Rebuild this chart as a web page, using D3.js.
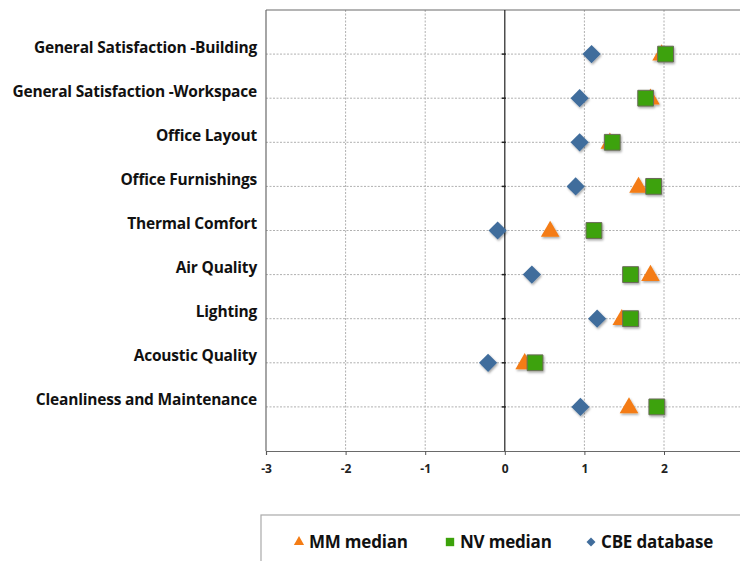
<!DOCTYPE html>
<html>
  <head>
    <meta charset="utf-8">
    <script src="https://d3js.org/d3.v7.min.js"></script>
    <style>
      body { margin: 0; background: #fff; }
      text { font-family: "Open Sans", Lato, sans-serif; }
    </style>
  </head>
  <body>
    <div id="chart"></div>
    <script>
      const categories = [
        "General Satisfaction -Building",
        "General Satisfaction -Workspace",
        "Office Layout",
        "Office Furnishings",
        "Thermal Comfort",
        "Air Quality",
        "Lighting",
        "Acoustic Quality",
        "Cleanliness and Maintenance"
      ]
      const mmMedian = [1.97, 1.83, 1.32, 1.68, 0.57, 1.83, 1.47, 0.25, 1.56]
      const nvMedian = [2.02, 1.77, 1.35, 1.87, 1.12, 1.58, 1.58, 0.38, 1.91]
      const cbeData = [1.09, 0.94, 0.94, 0.89, -0.09, 0.34, 1.16, -0.21, 0.95]
      const xTicks = [-3, -2, -1, 0, 1, 2, 3]
      const seriesNames = ["MM median", "NV median", "CBE database"]

      let data = {
        width: 740,
        height: 561,
        margin: { left: 266, top: 10 },
        plotRight: 743.6,
        plotBottom: 451
      }

      let svg = d3.select("#chart")
        .append("svg")
        .attr("width", data.width)
        .attr("height", data.height)

      let defs = svg.append("defs")
      defs.append("filter")
        .attr("id", "shadow")
        .attr("x", "-50%").attr("y", "-50%")
        .attr("width", "200%").attr("height", "200%")
        .append("feDropShadow")
        .attr("dx", 1).attr("dy", 1.5)
        .attr("stdDeviation", 1)
        .attr("flood-color", "#000")
        .attr("flood-opacity", 0.35)

      let x = d3.scaleLinear()
        .domain([-3, 3])
        .range([data.margin.left, data.plotRight])

      let y = d3.scaleLinear()
        .domain([0, 10])
        .range([data.margin.top, data.plotBottom])

      // grid
      let grid = svg.append("g")
      grid.selectAll(".vgrid")
        .data(xTicks.filter(d => d !== 0 && d !== -3))
        .enter()
        .append("line")
        .attr("x1", d => x(d)).attr("x2", d => x(d))
        .attr("y1", data.margin.top).attr("y2", data.plotBottom)
        .attr("stroke", "#b0b0b0")
        .attr("stroke-width", 1)
        .attr("stroke-dasharray", "2,1.5")

      grid.selectAll(".hgrid")
        .data(categories)
        .enter()
        .append("line")
        .attr("x1", data.margin.left).attr("x2", data.width)
        .attr("y1", (d, i) => y(i + 1)).attr("y2", (d, i) => y(i + 1))
        .attr("stroke", "#b0b0b0")
        .attr("stroke-width", 1)
        .attr("stroke-dasharray", "2,1.5")

      // frame
      svg.append("line")
        .attr("x1", data.margin.left).attr("x2", data.width)
        .attr("y1", data.margin.top).attr("y2", data.margin.top)
        .attr("stroke", "#6a6a6a").attr("stroke-width", 1.2)
      svg.append("line")
        .attr("x1", data.margin.left).attr("x2", data.margin.left)
        .attr("y1", data.margin.top).attr("y2", data.plotBottom)
        .attr("stroke", "#6a6a6a").attr("stroke-width", 1.2)

      // zero axis with category ticks
      svg.append("line")
        .attr("x1", x(0)).attr("x2", x(0))
        .attr("y1", data.margin.top).attr("y2", data.plotBottom)
        .attr("stroke", "#222").attr("stroke-width", 1.2)
      svg.append("g").selectAll("line")
        .data(categories)
        .enter()
        .append("line")
        .attr("x1", x(0) - 3).attr("x2", x(0) + 1)
        .attr("y1", (d, i) => y(i + 1)).attr("y2", (d, i) => y(i + 1))
        .attr("stroke", "#222").attr("stroke-width", 1.5)

      // x axis
      let xAxis = svg.append("g")
        .attr("transform", `translate(0,${data.plotBottom})`)
        .call(d3.axisBottom(x).tickValues(xTicks).tickSize(4).tickFormat(d3.format("d")))
      xAxis.select(".domain").attr("stroke", "#6a6a6a").attr("stroke-width", 1.2)
      xAxis.selectAll(".tick line").attr("stroke", "#555")
      xAxis.selectAll(".tick text")
        .attr("dy", "1.25em")
        .attr("font-size", 12)
        .attr("font-weight", "bold")
        .attr("fill", "#222")
        .text(d => d3.format("d")(d).replace("−", "-"))

      // category labels
      svg.append("g").selectAll("text")
        .data(categories)
        .enter()
        .append("text")
        .attr("x", 257)
        .attr("y", (d, i) => y(i + 1) - 1.5)
        .attr("text-anchor", "end")
        .attr("font-size", 15.5)
        .attr("font-weight", "bold")
        .attr("fill", "#111")
        .attr("letter-spacing", -0.2)
        .text(d => d)

      const colors = { mm: "#f47c14", nv: "#3ca20a", cbe: "#416d9c" }
      const tri = d3.symbol().type(d3.symbolTriangle).size(150)
      const sq = d3.symbol().type(d3.symbolSquare).size(250)
      const dia = d3.symbol().type(d3.symbolSquare).size(165)

      let marks = svg.append("g").attr("filter", "url(#shadow)")

      marks.selectAll(".cbe")
        .data(cbeData)
        .enter()
        .append("path")
        .attr("d", dia)
        .attr("transform", (d, i) => `translate(${x(d)},${y(i + 1)}) rotate(45)`)
        .attr("fill", colors.cbe)

      marks.selectAll(".mm")
        .data(mmMedian)
        .enter()
        .append("path")
        .attr("d", tri)
        .attr("transform", (d, i) => `translate(${x(d)},${y(i + 1) + 1})`)
        .attr("fill", colors.mm)

      marks.selectAll(".nv")
        .data(nvMedian)
        .enter()
        .append("path")
        .attr("d", sq)
        .attr("transform", (d, i) => `translate(${x(d)},${y(i + 1)})`)
        .attr("fill", colors.nv)
        .attr("stroke", "#6b6b5a")
        .attr("stroke-width", 1)

      // legend
      svg.append("rect")
        .attr("x", 261).attr("y", 515)
        .attr("width", 500).attr("height", 60)
        .attr("fill", "#fff")
        .attr("stroke", "#aaa")
        .attr("stroke-width", 1.2)

      const legendX = [299, 450, 591]
      const legendShapes = [
        d3.symbol().type(d3.symbolTriangle).size(45),
        d3.symbol().type(d3.symbolSquare).size(70),
        d3.symbol().type(d3.symbolSquare).size(40)
      ]
      const legendColors = [colors.mm, colors.nv, colors.cbe]

      let legend = svg.append("g").selectAll("g")
        .data(seriesNames)
        .enter()
        .append("g")
        .attr("transform", (d, i) => `translate(${legendX[i]},542)`)

      legend.append("path")
        .attr("d", (d, i) => legendShapes[i]())
        .attr("transform", (d, i) => i === 2 ? "rotate(45)" : null)
        .attr("fill", (d, i) => legendColors[i])

      legend.append("text")
        .attr("x", 10)
        .attr("y", 6)
        .attr("font-size", 17)
        .attr("font-weight", "bold")
        .attr("fill", "#111")
        .attr("letter-spacing", -0.2)
        .text(d => d)
    </script>
  </body>
</html>
